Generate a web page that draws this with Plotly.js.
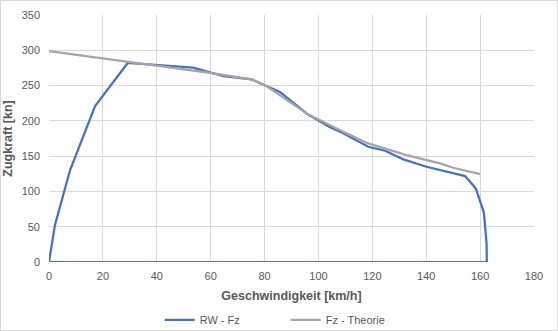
<!DOCTYPE html>
<html><head><meta charset="utf-8">
<script src="https://cdn.plot.ly/plotly-3.0.1.min.js"></script>
<style>
html,body{margin:0;padding:0;background:#fff;}
#c{width:558px;height:331px;box-sizing:border-box;border:1px solid #D9D9D9;}
</style></head>
<body><div id="c"></div>
<script>
const rwX = [0, 2.2, 7.8, 17.1, 29.2, 40, 48.6, 53.5, 64.7, 75.2, 80.1, 85.7, 95.6, 100.6, 104.3, 109.2, 115.4, 118.5, 124.7, 131.5, 140.1, 148.8, 154.4, 158.4, 161.4, 162.4, 162.5, 0];
const rwY = [0, 52, 130, 221, 282, 279, 277, 275.5, 263.5, 258.8, 250.5, 241, 210.5, 198.7, 190.8, 182.3, 170.4, 163.3, 157.7, 145.4, 135, 126.5, 121.8, 104.3, 70, 26.4, 0, 0];
const thX = [0, 6.5, 19.6, 30, 40, 48.6, 59.7, 75.2, 80.8, 95.6, 108, 118.5, 132.7, 145.1, 150, 160];
const thY = [299, 295.6, 289, 283.5, 278.5, 273, 268, 258.8, 249, 210.6, 186.7, 168, 151.5, 139.8, 133.6, 124.6];
const xTicks = [0, 20, 40, 60, 80, 100, 120, 140, 160, 180];
const yTicks = [0, 50, 100, 150, 200, 250, 300, 350];

const traces = [
  {x: rwX, y: rwY, name: 'RW - Fz', mode: 'lines', line: {color: '#4472C4', width: 2.25}},
  {x: thX, y: thY, name: 'Fz - Theorie', mode: 'lines', line: {color: '#A5A5A5', width: 2.25}}
];
const tickFont = {family: 'Liberation Sans, Arial, sans-serif', size: 11, color: '#595959'};
const titleFont = {family: 'Liberation Sans, Arial, sans-serif', size: 12.5, color: '#595959', weight: 'bold'};
const gridCol = '#D9D9D9';
const layout = {
  width: 556, height: 329,
  margin: {l: 48, r: 23, t: 14, b: 68},
  paper_bgcolor: '#fff', plot_bgcolor: '#fff',
  showlegend: true,
  legend: {orientation: 'h', xref: 'container', yref: 'container',
           x: 0.512, xanchor: 'center', y: 0.075, yanchor: 'top',
           font: {family: 'Liberation Sans, Arial, sans-serif', size: 11, color: '#595959'},
           itemwidth: 30, entrywidth: 81, entrywidthmode: 'pixels', tracegroupgap: 0},
  xaxis: {range: [0, 180], tickvals: xTicks, ticktext: xTicks.map(String), automargin: false,
          showgrid: true, gridcolor: gridCol, gridwidth: 1, zeroline: false,
          showline: false, ticks: '', ticklabelstandoff: 6,
          tickfont: tickFont,
          title: {text: 'Geschwindigkeit [km/h]', font: titleFont, standoff: 10}},
  yaxis: {range: [0, 350], tickvals: yTicks, ticktext: yTicks.map(String), automargin: false,
          showgrid: true, gridcolor: gridCol, gridwidth: 1, zeroline: false,
          showline: false, ticks: '', ticklabelstandoff: 8,
          tickfont: tickFont,
          title: {text: 'Zugkraft [kn]', font: titleFont, standoff: 8}}
};
Plotly.newPlot('c', traces, layout, {displayModeBar: false, staticPlot: true});
</script></body></html>
